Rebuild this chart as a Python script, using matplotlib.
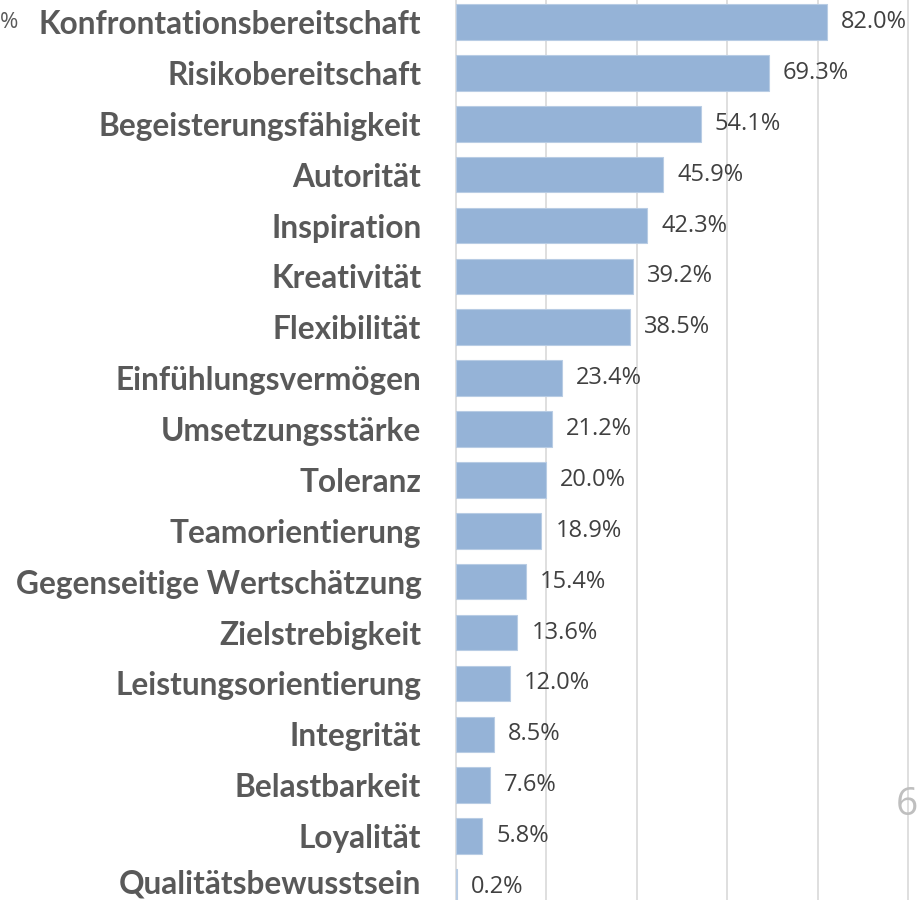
import matplotlib
matplotlib.use("Agg")
import matplotlib.pyplot as plt
import matplotlib.transforms as mtransforms
import numpy as np

# Data
labels = ["Konfrontationsbereitschaft", "Risikobereitschaft", "Begeisterungsfähigkeit",
          "Autorität", "Inspiration", "Kreativität", "Flexibilität",
          "Einfühlungsvermögen", "Umsetzungsstärke", "Toleranz", "Teamorientierung",
          "Gegenseitige Wertschätzung", "Zielstrebigkeit", "Leistungsorientierung",
          "Integrität", "Belastbarkeit", "Loyalität", "Qualitätsbewusstsein"]
values = [82.0, 69.3, 54.1, 45.9, 42.3, 39.2, 38.5, 23.4, 21.2, 20.0, 18.9,
          15.4, 13.6, 12.0, 8.5, 7.6, 5.8, 0.2]
grid_ticks = [20, 40, 60, 80, 100]

W, H = 920, 900
fig = plt.figure(figsize=(W / 100, H / 100), dpi=100)

# axes spans past the visible area (chart is cropped like the reference)
ax_left = 456 / W
ax = fig.add_axes([ax_left, 0, 1 - ax_left, 1])

y = np.arange(len(labels))
ax.barh(y, values, height=0.7, color="#95B3D7", edgecolor="#B8CCE4", linewidth=0.8, zorder=3)

ax.set_xlim(0, 100 * (W - 456) / (908 - 456))
step = 50.88
ax.set_ylim((H - 22) / step, -22 / step)

ax.set_xticks(grid_ticks)
ax.xaxis.grid(True, color="#D9D9D9", linewidth=1.2, zorder=0)
ax.tick_params(axis="x", length=0, labelbottom=False)

ax.set_yticks(y)
ax.set_yticklabels(labels, fontfamily="Lato", fontweight="bold", fontsize=22.8, color="#595959")
ax.tick_params(axis="y", length=0, pad=25)

# nudge the last label up a little so it stays inside the picture
last = ax.get_yticklabels()[-1]
last.set_transform(last.get_transform() + mtransforms.ScaledTranslation(0, 5 / 100, fig.dpi_scale_trans))

for s in ["top", "right", "bottom"]:
    ax.spines[s].set_visible(False)
ax.spines["left"].set_color("#D9D9D9")
ax.spines["left"].set_linewidth(1.2)

for yi, v in zip(y, values):
    ax.annotate(f"{v:.1f}%", xy=(v, yi), xytext=(10, 0), textcoords="offset points",
                va="center", ha="left", fontfamily="Open Sans", fontsize=17, color="#404040")

# cropped fragments at the edges of the reference
fig.text(0.0, 1 - 22 / H, "%", ha="left", va="center", fontfamily="Open Sans",
         fontsize=16, color="#595959")
fig.text(918 / W, 1 - 805 / H, "6", ha="right", va="center", fontfamily="Open Sans",
         fontsize=28, color="#BFBFBF")

fig.savefig("out.png", dpi=100)
